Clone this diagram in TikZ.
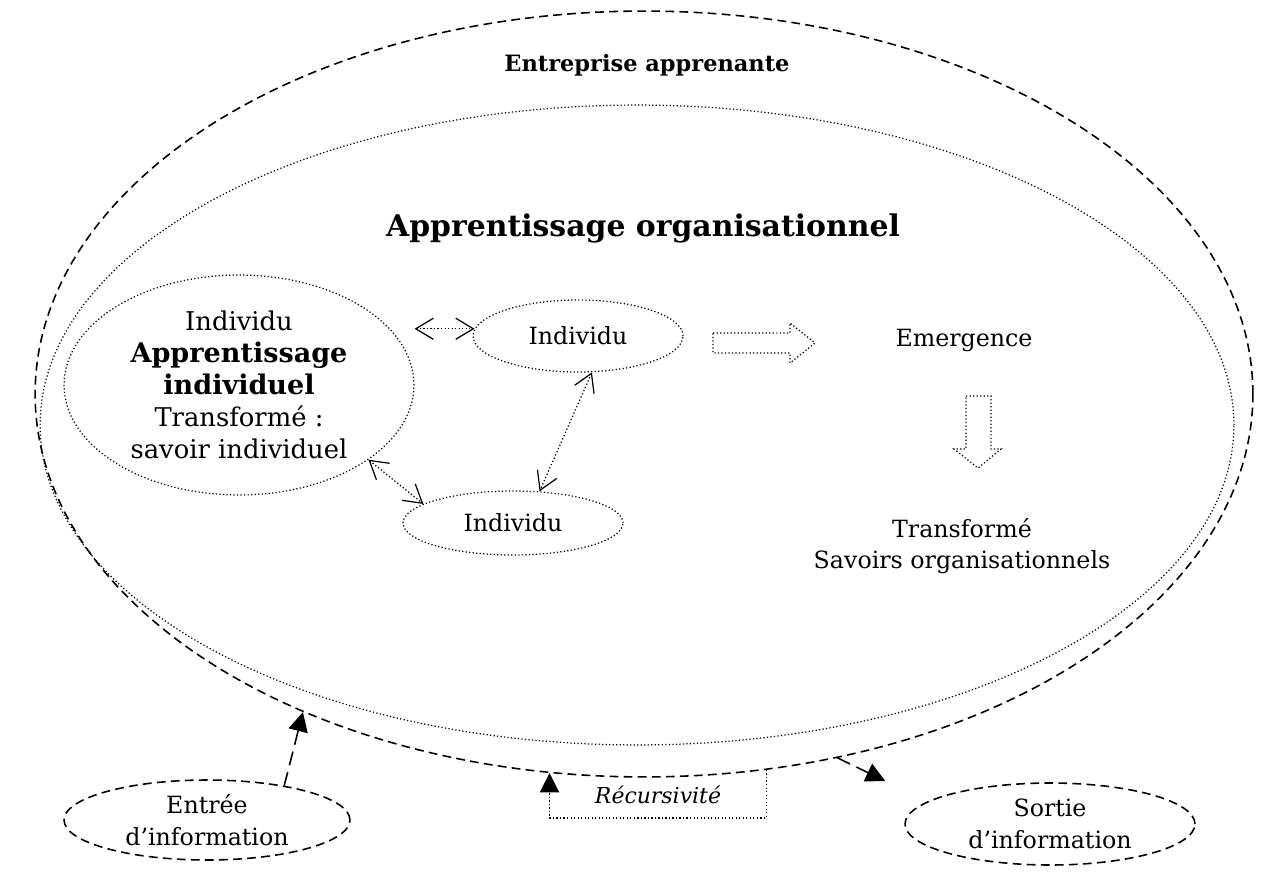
\documentclass[tikz,border=0pt]{standalone}
\usepackage{fontspec}
\setmainfont{DejaVu Serif}
\usetikzlibrary{arrows.meta,shapes.geometric}

\tikzset{
  zone/.style={draw, ellipse, inner sep=0pt},
  frontier/.style={line width=0.9pt, dash pattern=on 5pt off 3pt},
  pointille/.style={line width=0.7pt, dash pattern=on 0.7pt off 1.3pt},
  flux/.style={line width=0.9pt, dash pattern=on 8pt off 4pt, -{Triangle[length=11pt,width=11pt]}},
  echange/.style={pointille, {Straight Barb[length=10pt,width=12pt]}-{Straight Barb[length=10pt,width=12pt]}},
  bloc/.style={draw, pointille}
}

\begin{document}
\begin{tikzpicture}[x=0.02cm, y=-0.02cm, font=\fontsize{13.5}{18}\selectfont]
\useasboundingbox (0,0) rectangle (1287,895);

% the two organisations
\node[zone, frontier, minimum width=24.36cm, minimum height=15.32cm] (outer) at (644,394) {};
\node[zone, pointille, minimum width=23.88cm, minimum height=12.8cm] (inner) at (637,425) {};
\node[font=\fontsize{12.8}{16}\selectfont\bfseries] (entreprise) at (647,65) {Entreprise apprenante};
\node[font=\fontsize{17}{20}\selectfont\bfseries] (apporg) at (643,228) {Apprentissage organisationnel};

% individuals
\node[zone, pointille, minimum width=7cm, minimum height=4.4cm, align=center,
  font=\fontsize{14.7}{18.2}\selectfont] (big) at (239,385)
  {Individu\\{\fontsize{15.4}{18.2}\selectfont\bfseries Apprentissage}\\{\fontsize{15.4}{18.2}\selectfont\bfseries individuel}\\Transformé :\\savoir individuel};
\node[zone, pointille, minimum width=4.2cm, minimum height=1.44cm] (ind1) at (578,336) {Individu};
\node[zone, pointille, minimum width=4.4cm, minimum height=1.28cm] (ind2) at (513,523) {Individu};

\draw[echange] (big.east |- ind1.176) -- (ind1.176);
\draw[echange] (ind1.-69) -- (ind2.50);
\draw[echange] (big.-30) -- (ind2.168);

% emergence
\draw[bloc] (713,333) -- (790,333) -- (790,323) -- (815,343) -- (790,363) -- (790,353) -- (713,353) -- cycle;
\node (emergence) at (964,340) {Emergence};
\draw[bloc] (966,396) -- (991,396) -- (991,449) -- (1001,449) -- (978,468) -- (954,449) -- (966,449) -- cycle;
\node[align=center] (savoirs) at (962,546) {Transformé\\Savoirs organisationnels};

% inputs and outputs
\node[zone, frontier, minimum width=5.72cm, minimum height=1.6cm, align=center] (entree) at (207,820) {Entrée\\d’information};
\node[zone, frontier, minimum width=5.8cm, minimum height=1.64cm, align=center] (sortie) at (1050,824) {Sortie\\d’information};
\coordinate (sortiein) at ([shift={(-19,-43)}]sortie.west);
\draw[flux] (entree.24) -- (outer.223);
\draw[flux] (outer.-62) -- (sortiein);

% recursion
\node[font=\fontsize{12.5}{18}\selectfont\itshape] (rec) at (658,795) {Récursivité};
\coordinate (recbas) at (658,818);
\draw[pointille, -{Triangle[length=11pt,width=11pt]}] (outer.-72) |- (recbas) -| (outer.-104);

\end{tikzpicture}
\end{document}
